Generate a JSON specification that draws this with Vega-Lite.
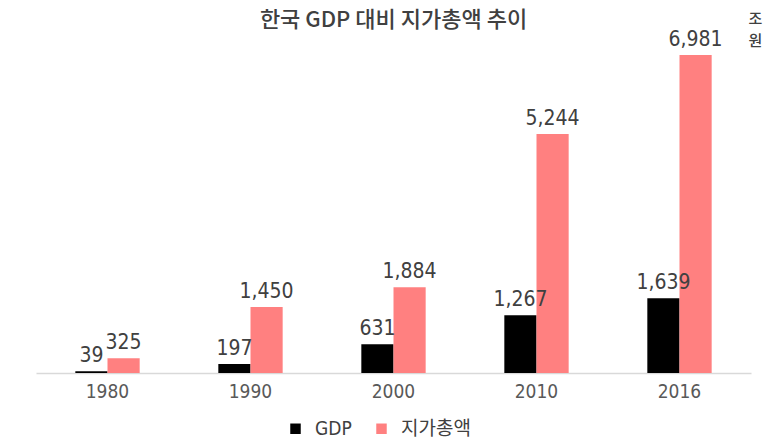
{
  "$schema": "https://vega.github.io/schema/vega-lite/v6.json",
  "autosize": "none",
  "width": 715,
  "height": 328,
  "padding": {"left": 36, "top": 45, "right": 14, "bottom": 70},
  "background": "white",
  "config": {
    "view": {"stroke": null},
    "font": "DejaVu Sans Condensed, Noto Sans CJK KR"
  },
  "title": {
    "text": "한국 GDP 대비 지가총액 추이",
    "font": "Noto Sans CJK KR",
    "fontSize": 22,
    "fontWeight": 500,
    "color": "#404040",
    "anchor": "middle",
    "offset": -21
  },
  "data": {
    "values": [
      {"year": "1980", "series": "GDP", "value": 39},
      {"year": "1980", "series": "지가총액", "value": 325},
      {"year": "1990", "series": "GDP", "value": 197},
      {"year": "1990", "series": "지가총액", "value": 1450},
      {"year": "2000", "series": "GDP", "value": 631},
      {"year": "2000", "series": "지가총액", "value": 1884},
      {"year": "2010", "series": "GDP", "value": 1267},
      {"year": "2010", "series": "지가총액", "value": 5244},
      {"year": "2016", "series": "GDP", "value": 1639},
      {"year": "2016", "series": "지가총액", "value": 6981}
    ]
  },
  "encoding": {
    "x": {
      "field": "year",
      "type": "nominal",
      "scale": {"paddingInner": 0.55, "paddingOuter": 0.275},
      "axis": {
        "title": null,
        "labelAngle": 0,
        "labelFontSize": 19,
        "labelColor": "#595959",
        "labelPadding": 9,
        "ticks": false,
        "domainColor": "#d9d9d9",
        "domainWidth": 1.5
      }
    },
    "xOffset": {
      "field": "series",
      "type": "nominal",
      "scale": {"domain": ["GDP", "지가총액"], "paddingInner": 0, "paddingOuter": 0}
    },
    "y": {
      "field": "value",
      "type": "quantitative",
      "scale": {"domain": [0, 7200], "nice": false},
      "axis": {
        "orient": "right",
        "title": ["조", "원"],
        "titleAngle": 0,
        "titleFont": "Noto Sans CJK KR",
        "titleFontSize": 15,
        "titleFontWeight": 500,
        "titleColor": "#404040",
        "titleLineHeight": 22,
        "titleX": -3,
        "titleY": -34,
        "titleAlign": "left",
        "titleBaseline": "top",
        "labels": false,
        "ticks": false,
        "domain": false,
        "grid": false
      }
    }
  },
  "layer": [
    {
      "mark": {"type": "bar"},
      "encoding": {
        "color": {
          "field": "series",
          "type": "nominal",
          "scale": {"domain": ["GDP", "지가총액"], "range": ["#000000", "#ff8080"]},
          "legend": {
            "orient": "none",
            "legendX": 250,
            "legendY": 374,
            "direction": "horizontal",
            "title": null,
            "symbolType": "square",
            "symbolSize": 110,
            "symbolStrokeWidth": 0,
            "labelFont": "DejaVu Sans Condensed, Noto Sans CJK KR",
            "labelFontSize": 19,
            "labelColor": "#404040",
            "labelOffset": 10,
            "columnPadding": 20
          }
        }
      }
    },
    {
      "mark": {"type": "text", "baseline": "alphabetic", "dy": -9, "fontSize": 21, "color": "#404040"},
      "encoding": {
        "text": {"field": "value", "type": "quantitative", "format": ","}
      }
    }
  ]
}
